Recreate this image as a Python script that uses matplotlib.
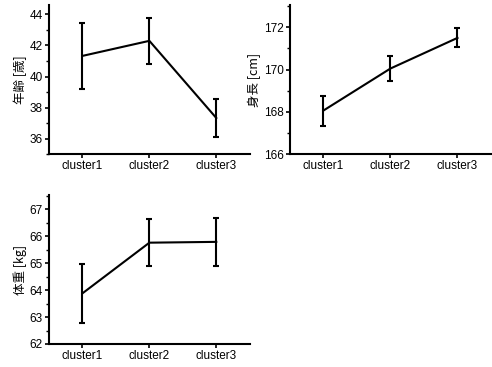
import numpy as np
import matplotlib
matplotlib.use("Agg")
import matplotlib.pyplot as plt
from matplotlib.ticker import MultipleLocator

plt.rcParams['font.family'] = ['Noto Sans CJK JP', 'DejaVu Sans']

# データ
clusters = ["cluster1", "cluster2", "cluster3"]
age_mean = [41.33, 42.30, 37.33]
age_err = [2.14, 1.47, 1.21]
height_mean = [168.06, 170.05, 171.50]
height_err = [0.71, 0.59, 0.45]
weight_mean = [63.88, 65.76, 65.79]
weight_err = [1.09, 0.88, 0.90]

fig = plt.figure(figsize=(4.92, 3.67), dpi=100)

def draw(rect, mean, err, ylabel, ylim, major, minor):
    ax = fig.add_axes(rect)
    x = np.arange(len(clusters))
    ax.errorbar(x, mean, yerr=err, color="black", lw=1.5, elinewidth=1.5,
                capsize=2, capthick=1.5)
    ax.set_xlim(-0.5, 2.5)
    ax.set_ylim(*ylim)
    ax.set_xticks(x)
    ax.set_xticklabels(clusters)
    ax.yaxis.set_major_locator(MultipleLocator(major))
    ax.yaxis.set_minor_locator(MultipleLocator(minor))
    for s in ["top", "right"]:
        ax.spines[s].set_visible(False)
    for s in ["left", "bottom"]:
        ax.spines[s].set_linewidth(1.5)
    ax.tick_params(which="major", direction="out", length=3, width=1.2, labelsize=8.5, pad=1.5)
    ax.tick_params(which="minor", direction="out", length=2, width=1.0)
    ax.tick_params(axis="x", which="minor", bottom=False)
    for lab in ax.get_xticklabels() + ax.get_yticklabels():
        lab.set_family(["Liberation Sans", "DejaVu Sans"])
    ax.set_ylabel(ylabel, fontsize=9, labelpad=2)
    return ax

draw([0.0996, 0.580, 0.408, 0.406], age_mean, age_err, "年齢 [歳]", (35, 44.6), 2, 1)
draw([0.589, 0.580, 0.409, 0.406], height_mean, height_err, "身長 [cm]", (166, 173.05), 2, 1)
draw([0.0996, 0.0627, 0.408, 0.406], weight_mean, weight_err, "体重 [kg]", (62, 67.53), 1, 0.5)

fig.savefig("out.png", dpi=100)
